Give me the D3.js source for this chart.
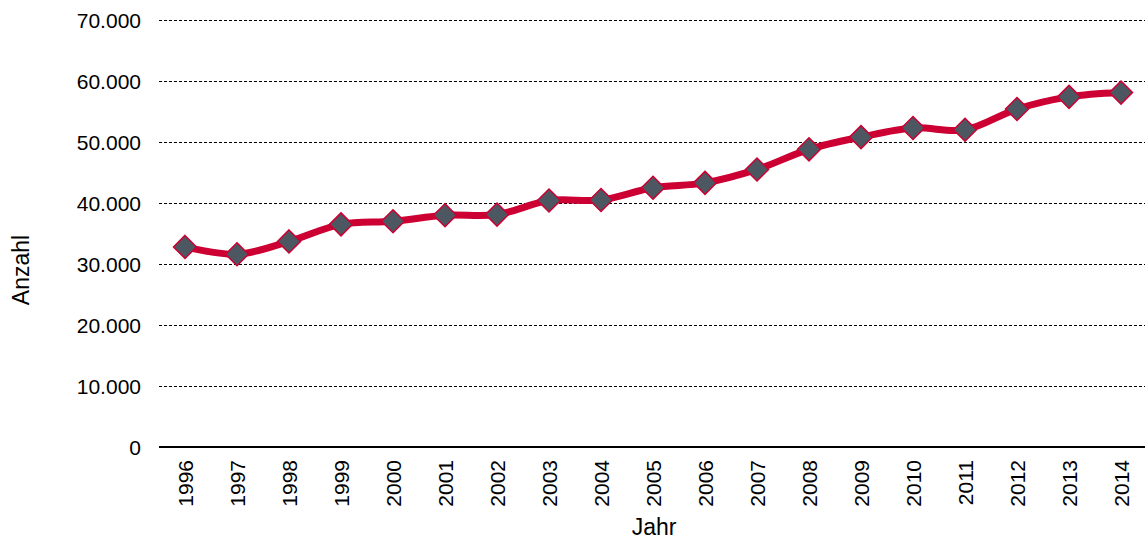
<!DOCTYPE html>
<html>
<head>
<meta charset="utf-8">
<script src="https://cdn.jsdelivr.net/npm/d3@7"></script>
<style>
  html, body { margin: 0; padding: 0; background: #fff; }
  svg { display: block; font-family: "Liberation Sans", Arial, sans-serif; }
</style>
</head>
<body>
<svg id="chart" width="1145" height="542"></svg>
<script>
// Anzahl pro Jahr
const years = ["1996","1997","1998","1999","2000","2001","2002","2003","2004","2005",
               "2006","2007","2008","2009","2010","2011","2012","2013","2014"];
const counts = [32800, 31600, 33700, 36500, 37000, 38000, 38100, 40400, 40500, 42500,
                43300, 45500, 48800, 50800, 52300, 52000, 55400, 57400, 58100];
const yTicks = [0, 10000, 20000, 30000, 40000, 50000, 60000, 70000];

const svg = d3.select("#chart");
const m = { left: 159, right: 1147, top: 20, bottom: 447 };

const x = d3.scaleBand().domain(years).range([m.left, m.right]);
const y = d3.scaleLinear().domain([0, 70000]).range([m.bottom, m.top]);

const fmt = v => d3.format(",")(v).replace(/,/g, ".");

// horizontal gridlines
svg.append("g")
  .selectAll("line")
  .data(yTicks.filter(d => d > 0))
  .join("line")
  .attr("x1", m.left).attr("x2", m.right)
  .attr("y1", d => Math.round(y(d)) + 0.5).attr("y2", d => Math.round(y(d)) + 0.5)
  .attr("stroke", "#000").attr("stroke-width", 1)
  .attr("stroke-dasharray", "3,2");

// y axis labels
svg.append("g")
  .selectAll("text")
  .data(yTicks)
  .join("text")
  .attr("x", 141)
  .attr("y", d => y(d))
  .attr("dy", "0.36em")
  .attr("text-anchor", "end")
  .attr("font-size", 21)
  .attr("fill", "#000")
  .text(d => d === 0 ? "0" : fmt(d));

// baseline
svg.append("line")
  .attr("x1", m.left).attr("x2", m.right)
  .attr("y1", m.bottom).attr("y2", m.bottom)
  .attr("stroke", "#000").attr("stroke-width", 2);

// x axis labels (rotated)
svg.append("g")
  .selectAll("text")
  .data(years)
  .join("text")
  .attr("transform", d => `translate(${x(d) + x.bandwidth() / 2 + 8},460) rotate(-90)`)
  .attr("text-anchor", "end")
  .attr("font-size", 21)
  .attr("fill", "#000")
  .text(d => d);

// axis titles
svg.append("text")
  .attr("transform", "translate(29,270) rotate(-90)")
  .attr("text-anchor", "middle")
  .attr("font-size", 23)
  .text("Anzahl");

svg.append("text")
  .attr("x", 654).attr("y", 535)
  .attr("text-anchor", "middle")
  .attr("font-size", 23)
  .text("Jahr");

// line
const cx = d => x(d) + x.bandwidth() / 2;
const line = d3.line()
  .x((d, i) => cx(years[i]))
  .y(d => y(d))
  .curve(d3.curveCatmullRom.alpha(0.5));

svg.append("path")
  .datum(counts)
  .attr("d", line)
  .attr("fill", "none")
  .attr("stroke", "#cc0033")
  .attr("stroke-width", 7)
  .attr("stroke-linejoin", "round");

// diamond markers
const r = 11.5;
svg.append("g")
  .selectAll("path")
  .data(counts)
  .join("path")
  .attr("d", (d, i) => {
    const px = cx(years[i]), py = y(d);
    return `M${px},${py - r}L${px + r},${py}L${px},${py + r}L${px - r},${py}Z`;
  })
  .attr("fill", "#4d5761")
  .attr("stroke", "#cc0033")
  .attr("stroke-width", 1.5);
</script>
</body>
</html>
